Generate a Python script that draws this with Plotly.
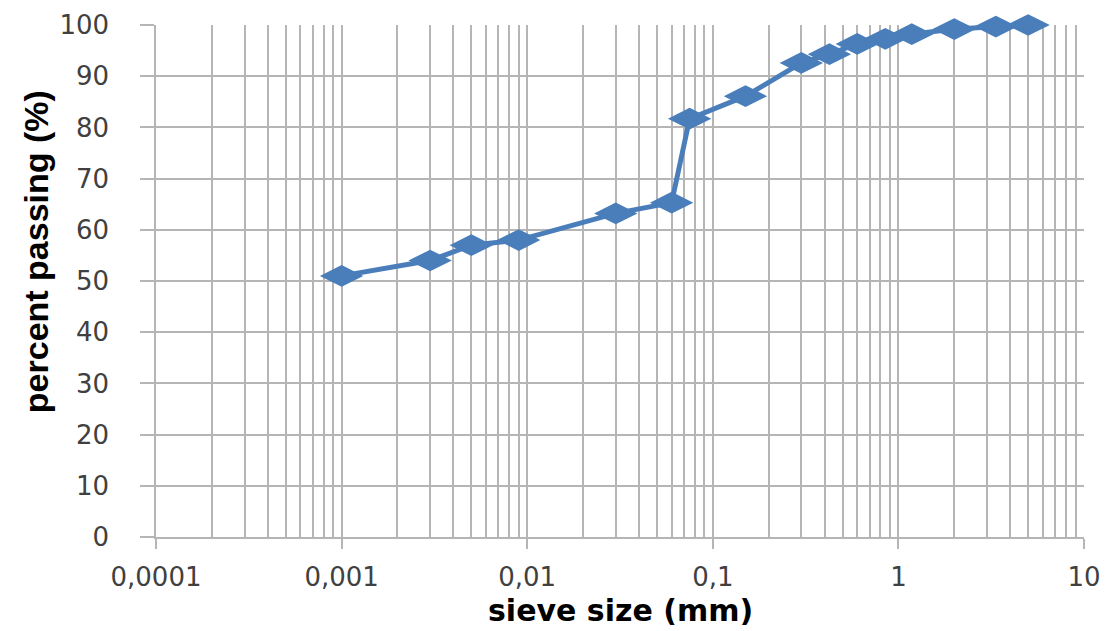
import plotly.graph_objects as go

# Sieve sizes (mm) and percent passing
sieve_size_mm = [0.001, 0.003, 0.005, 0.009, 0.03, 0.06, 0.075, 0.15, 0.3, 0.425,
                 0.6, 0.85, 1.18, 2.0, 3.35, 5.0]
percent_passing = [51, 54, 57, 58, 63.2, 65.3, 81.7, 86.1, 92.6, 94.3,
                   96.3, 97.3, 98.2, 99.2, 99.7, 100]

x_tick_vals = [0.0001, 0.001, 0.01, 0.1, 1, 10]
x_tick_text = ["0,0001", "0,001", "0,01", "0,1", "1", "10"]
y_tick_vals = [0, 10, 20, 30, 40, 50, 60, 70, 80, 90, 100]

x_title = "sieve size (mm)"
y_title = "percent passing (%)"

LINE = "#4a7ebb"
GRID = "#b5b5b5"
TICKFONT = dict(family="DejaVu Sans", size=26, color="#404040")

fig = go.Figure()
fig.add_trace(go.Scatter(
    x=sieve_size_mm, y=percent_passing, mode="lines+markers",
    line=dict(color=LINE, width=5),
    marker=dict(symbol="diamond-wide", size=31, color=LINE, line=dict(width=0)),
    cliponaxis=False, showlegend=False,
))

fig.update_layout(
    width=1107, height=631,
    margin=dict(l=156, r=23, t=25, b=94),
    paper_bgcolor="white", plot_bgcolor="white",
    separators=",.",
)

fig.update_xaxes(
    type="log", range=[-4, 1], automargin=False,
    tickvals=x_tick_vals, ticktext=x_tick_text,
    ticks="outside", ticklen=10, tickcolor=GRID, tickwidth=1.5,
    showgrid=True, gridcolor=GRID, gridwidth=1.5,
    minor=dict(dtick="D1", showgrid=True, gridcolor=GRID, gridwidth=1.5, ticks=""),
    showline=True, linecolor=GRID, linewidth=1.5,
    tickfont=TICKFONT, ticklabelstandoff=6, ticklabeloverflow="allow",
    zeroline=False,
)

fig.update_yaxes(
    range=[0, 100], tickvals=y_tick_vals, automargin=False,
    ticks="outside", ticklen=14, tickcolor=GRID, tickwidth=1.5,
    showgrid=True, gridcolor=GRID, gridwidth=1.5,
    showline=True, linecolor=GRID, linewidth=1.5,
    tickfont=TICKFONT, ticklabelstandoff=26,
    zeroline=False,
)

# axis titles
fig.add_annotation(
    text="<b>" + x_title + "</b>", xref="paper", yref="paper",
    x=0.5, y=-0.143, xanchor="center", yanchor="middle", showarrow=False,
    font=dict(family="DejaVu Sans", size=30, color="black"),
)
fig.add_annotation(
    text="<b>" + y_title + "</b>", xref="paper", yref="paper",
    x=-0.130, y=0.557, xanchor="center", yanchor="middle", showarrow=False,
    textangle=-90,
    font=dict(family="Liberation Sans Narrow, Liberation Sans", size=34, color="black"),
)

# remove the default 8px page margin so the figure fills the window exactly
fig.write_html(
    "out.html",
    config={"displayModeBar": False},
    post_script="document.body.style.margin='0';document.body.style.overflow='hidden';",
)
